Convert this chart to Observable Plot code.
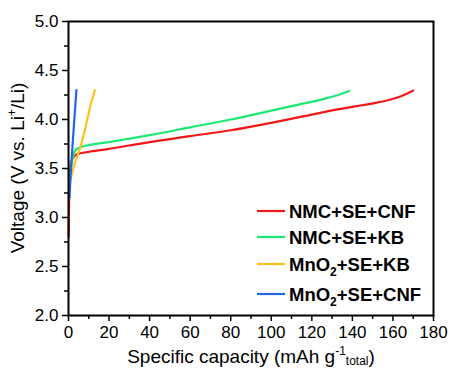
<!DOCTYPE html>
<html><head><meta charset="utf-8">
<script src="https://cdn.jsdelivr.net/npm/d3@7"></script>
<script src="https://cdn.jsdelivr.net/npm/@observablehq/plot@0.6"></script>
<style>
html,body{margin:0;padding:0;background:#fff;}
#chart{position:relative;width:450px;height:371px;}
svg{font-family:"Liberation Sans",Arial,sans-serif;}
</style></head><body><div id="chart"></div>
<script>
const seriesNames = ["NMC+SE+CNF", "NMC+SE+KB", "MnO2+SE+KB", "MnO2+SE+CNF"];
const seriesColors = ["#f01818", "#1ee874", "#ffc21a", "#2266f0"];

const nmcCnfCap = [0.1, 0.2, 0.4, 0.8, 1.5, 3, 5, 10, 20, 40, 60, 80, 100, 120, 130, 140, 146, 152, 158, 164, 170];
const nmcCnfV   = [2.80, 3.00, 3.30, 3.50, 3.58, 3.63, 3.65, 3.67, 3.70, 3.77, 3.83, 3.89, 3.966, 4.05, 4.093, 4.128, 4.15, 4.172, 4.199, 4.237, 4.295];

const nmcKbCap = [0.3, 0.6, 1.0, 1.8, 2.6, 3.5, 5, 10, 20, 40, 60, 80, 100, 114, 121, 127, 133, 138.5];
const nmcKbV   = [3.30, 3.40, 3.48, 3.58, 3.65, 3.69, 3.71, 3.74, 3.77, 3.84, 3.92, 4.00, 4.09, 4.155, 4.185, 4.215, 4.25, 4.29];

const mnKbCap = [0.5, 1.8, 3.5, 5.9, 8.4, 10.8, 12.2, 13.0];
const mnKbV   = [3.35, 3.45, 3.58, 3.72, 3.92, 4.14, 4.24, 4.30];

const mnCnfCap = [0.5, 0.7, 1.5, 2.6, 3.3, 3.9];
const mnCnfV   = [3.20, 3.30, 3.58, 3.92, 4.12, 4.30];

const xTicks = [0, 20, 40, 60, 80, 100, 120, 140, 160, 180];
const xMinor = [10, 30, 50, 70, 90, 110, 130, 150, 170];
const yTicks = [2.0, 2.5, 3.0, 3.5, 4.0, 4.5, 5.0];
const yMinor = [2.25, 2.75, 3.25, 3.75, 4.25, 4.75];

const caps = [nmcCnfCap, nmcKbCap, mnKbCap, mnCnfCap];
const volts = [nmcCnfV, nmcKbV, mnKbV, mnCnfV];
const data = [];
caps.forEach((c, i) => c.forEach((x, j) => data.push({series: seriesNames[i], cap: x, v: volts[i][j]})));

const plot = Plot.plot({
  width: 450, height: 371,
  marginLeft: 68, marginRight: 17, marginTop: 21, marginBottom: 56,
  style: {fontFamily: '"Liberation Sans", Arial, sans-serif', fontSize: "17px", color: "#000", background: "#fff"},
  x: {domain: [0, 180]},
  y: {domain: [2, 5]},
  color: {domain: seriesNames, range: seriesColors},
  marks: [
    Plot.axisX({ticks: xTicks, tickSize: 6, tickPadding: 4, label: null, fontSize: 17, strokeWidth: 1.5}),
    Plot.axisX({ticks: xMinor, tickSize: 4, tickFormat: () => "", label: null, strokeWidth: 1.5}),
    Plot.axisY({ticks: yTicks, tickSize: 6, tickPadding: 4, tickFormat: d3.format(".1f"), label: null, fontSize: 17, strokeWidth: 1.5}),
    Plot.axisY({ticks: yMinor, tickSize: 4, tickFormat: () => "", label: null, strokeWidth: 1.5}),
    Plot.line(data, {x: "cap", y: "v", z: "series", stroke: "series", strokeWidth: 2.2, curve: "catmull-rom"}),
    Plot.frame({stroke: "#000", strokeWidth: 2})
  ]
});
document.getElementById("chart").appendChild(plot);

const svg = d3.select(plot);
// y-axis label
const yl = svg.append("text").attr("transform", "translate(24,168) rotate(-90)")
  .attr("text-anchor", "middle").attr("font-size", 19).attr("fill", "#000");
yl.append("tspan").text("Voltage (V vs. Li");
yl.append("tspan").attr("dy", -8).attr("font-size", 12).text("+");
yl.append("tspan").attr("dy", 8).text("/Li)");
// x-axis label
const xl = svg.append("text").attr("x", 251).attr("y", 363)
  .attr("text-anchor", "middle").attr("font-size", 19).attr("fill", "#000");
xl.append("tspan").text("Specific capacity (mAh g");
xl.append("tspan").attr("dy", -8).attr("font-size", 12).text("-1");
xl.append("tspan").attr("dy", 10).attr("font-size", 12).text("total");
xl.append("tspan").attr("dy", -2).text(")");

// legend
const legY = [211, 237, 264, 294];
seriesNames.forEach((name, i) => {
  const y = legY[i];
  svg.append("line").attr("x1", 257).attr("x2", 285).attr("y1", y).attr("y2", y)
    .attr("stroke", seriesColors[i]).attr("stroke-width", 2.2);
  const t = svg.append("text").attr("x", 289).attr("y", y + 6.5).attr("text-anchor", "start")
    .attr("font-size", 18.5).attr("font-weight", "bold").attr("fill", "#000");
  const m = name.match(/^(MnO)2(.*)$/);
  if (m) {
    t.append("tspan").text(m[1]);
    t.append("tspan").attr("dy", 5).attr("font-size", 12).text("2");
    t.append("tspan").attr("dy", -5).text(m[2]);
  } else {
    t.text(name);
  }
});
</script></body></html>
